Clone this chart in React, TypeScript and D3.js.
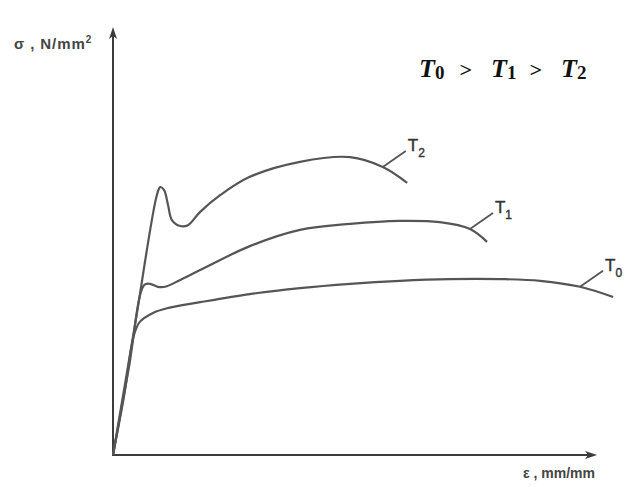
import React from "react"
import * as d3 from "d3"

// strain (x) and stress (y) in arbitrary units
const t0Strain = [0, 2.3, 4.3, 5.5, 8.2, 11.1, 17.9, 28.1, 38.4, 48.7, 58.9, 69.2, 79.5, 87.7, 95.9, 102.7]
const t0Stress = [0, 14.0, 28.0, 31.1, 33.2, 34.3, 35.7, 37.6, 39.0, 40.0, 40.7, 41.1, 41.1, 40.7, 39.3, 36.9]

const t1Strain = [0, 3.2, 6.4, 7.6, 9.2, 10.7, 13.8, 17.9, 28.1, 38.4, 48.7, 58.9, 67.1, 73.3, 76.8]
const t1Stress = [0, 20.0, 39.7, 40.0, 39.3, 39.3, 40.9, 43.2, 48.8, 52.6, 54.0, 54.7, 54.4, 52.8, 49.8]

const t2Strain = [0, 4.5, 9.0, 9.7, 10.5, 11.3, 12.1, 13.8, 15.4, 17.9, 22.0, 28.1, 38.4, 48.7, 55.4, 60.4]
const t2Stress = [0, 30.3, 60.7, 62.6, 61.9, 58.4, 54.9, 53.5, 53.7, 56.8, 60.7, 65.0, 68.5, 69.6, 67.3, 63.6]

const curveNames = ["T", "T", "T"]
const curveSubs = ["0", "1", "2"]
// index of the point on each curve that the label leader starts from
const leaderIndex = [14, 13, 14]

const width = 627
const height = 487

const App = () => {
  const x = d3.scaleLinear().domain([0, 100]).range([113, 600])
  const y = d3.scaleLinear().domain([0, 100]).range([455, 27])

  const series = [
    t0Strain.map((v, i) => [v, t0Stress[i]]),
    t1Strain.map((v, i) => [v, t1Stress[i]]),
    t2Strain.map((v, i) => [v, t2Stress[i]]),
  ]

  const line = d3
    .line<number[]>()
    .x((d) => x(d[0]))
    .y((d) => y(d[1]))
    .curve(d3.curveCatmullRom.alpha(0.5))

  const axisColor = "#3c3c3c"
  const curveColor = "#555"
  const x0 = x(0)
  const y0 = y(0)
  const yTop = y(100)
  const xEnd = x(99.4)

  return (
    <svg width={width} height={height} style={{ position: "absolute", left: 0, top: 0 }}>
      <rect width={width} height={height} fill="#fff" />
      {/* axes */}
      <line x1={x0} y1={y0} x2={x0} y2={yTop + 6} stroke={axisColor} strokeWidth={2} />
      <path d={`M${x0},${yTop} L${x0 - 4},${yTop + 12} L${x0},${yTop + 9} L${x0 + 4},${yTop + 12} Z`} fill={axisColor} />
      <line x1={x0 - 1} y1={y0} x2={xEnd - 6} y2={y0} stroke={axisColor} strokeWidth={2} />
      <path d={`M${xEnd},${y0} L${xEnd - 12},${y0 - 4} L${xEnd - 9},${y0} L${xEnd - 12},${y0 + 4} Z`} fill={axisColor} />

      <text x={14} y={49} fontFamily="Liberation Sans, Arial, sans-serif" fontWeight="bold" fontSize={15} fill="#444" letterSpacing={0.9}>
        σ , N/mm<tspan dy={-6} fontSize={10}>2</tspan>
      </text>
      <text x={523} y={478} fontFamily="Liberation Sans, Arial, sans-serif" fontWeight="bold" fontSize={14} fill="#444">
        ε , mm/mm
      </text>

      {/* curves */}
      {series.map((s, i) => (
        <path key={i} d={line(s) || ""} fill="none" stroke={curveColor} strokeWidth={2.2} strokeLinejoin="round" />
      ))}

      {/* leaders and labels */}
      {series.map((s, i) => {
        const p = s[leaderIndex[i]]
        const px = x(p[0])
        const py = y(p[1])
        const lx = px + 23
        const ly = py - 16
        return (
          <g key={i}>
            <line x1={px} y1={py} x2={lx} y2={ly} stroke={curveColor} strokeWidth={1.8} />
            <text x={lx + 2} y={ly} fontFamily="Liberation Sans, Arial, sans-serif" fontSize={17} fill="#333" stroke="#333" strokeWidth={0.4}>
              {curveNames[i]}
              <tspan dy={6} fontSize={12}>{curveSubs[i]}</tspan>
            </text>
          </g>
        )
      })}

      {/* temperature ordering */}
      <g fontFamily="Liberation Serif, Times New Roman, serif" fontWeight="bold" fontStyle="italic" fill="#111">
        <text x={419} y={77} fontSize={26}>T<tspan fontSize={19} fontStyle="normal" dy={2}>0</tspan></text>
        <text x={459} y={77} fontSize={22}>&gt;</text>
        <text x={491} y={77} fontSize={26}>T<tspan fontSize={19} fontStyle="normal" dy={2}>1</tspan></text>
        <text x={529} y={77} fontSize={22}>&gt;</text>
        <text x={561} y={77} fontSize={26}>T<tspan fontSize={19} fontStyle="normal" dy={2}>2</tspan></text>
      </g>
    </svg>
  )
}

export default App
